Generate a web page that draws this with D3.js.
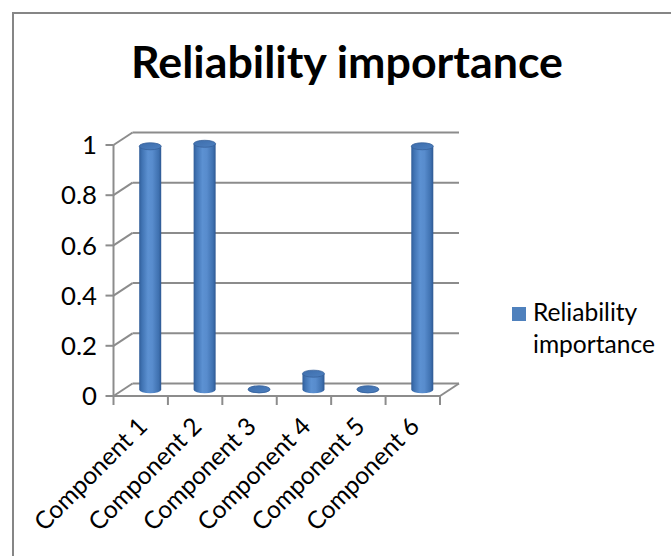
<!DOCTYPE html>
<html>
<head>
<meta charset="utf-8">
<script src="https://cdn.jsdelivr.net/npm/d3@7"></script>
<style>
  html, body { margin: 0; padding: 0; background: #fff; }
  svg { display: block; font-family: Lato, "Open Sans", sans-serif; }
</style>
</head>
<body>
<svg id="chart" width="671" height="556"></svg>
<script>
// Data
const categories = ["Component 1", "Component 2", "Component 3", "Component 4", "Component 5", "Component 6"];
const values = [0.97, 0.98, 0.002, 0.064, 0.002, 0.97];
const seriesName = "Reliability importance";
const yTicks = [0, 0.2, 0.4, 0.6, 0.8, 1];
const titleText = "Reliability importance";
const legendLines = ["Reliability", "importance"];

const svg = d3.select("#chart");
const W = 671, H = 556;

// Fit a font size so a text reaches a given width
function fitSize(text, weight, targetWidth) {
  const t = svg.append("text").attr("font-size", 100).attr("font-weight", weight).text(text);
  const w = t.node().getComputedTextLength();
  t.remove();
  return 100 * targetWidth / w;
}

// Outer frame
svg.append("rect")
  .attr("x", 13).attr("y", 13)
  .attr("width", W + 20).attr("height", H + 20)
  .attr("fill", "#fff").attr("stroke", "#868686").attr("stroke-width", 2);

// Title
const titleSize = fitSize(titleText, "bold", 432);
svg.append("text")
  .attr("x", 347).attr("y", 78)
  .attr("text-anchor", "middle")
  .attr("font-weight", "bold")
  .attr("font-size", titleSize)
  .attr("fill", "#000")
  .text(titleText);

const labelSize = fitSize(legendLines[1], "normal", 122);
const tickSize = fitSize("0.8", "normal", 36);

// Scales (front plane of the 3-D box)
const x = d3.scaleBand().domain(categories).range([113.5, 440]).padding(0);
const y = d3.scaleLinear().domain([0, 1]).range([396, 145]);
const depthX = 19, depthY = -12.5;   // offset from front plane to back wall

const grid = svg.append("g").attr("stroke", "#8c8c8c").attr("stroke-width", 2).attr("fill", "none");

// Back-wall gridlines and side-wall slants
yTicks.forEach(v => {
  const yf = y(v);
  grid.append("line")
    .attr("x1", x.range()[0] + depthX).attr("y1", yf + depthY)
    .attr("x2", x.range()[1] + depthX).attr("y2", yf + depthY);
  grid.append("line")
    .attr("x1", x.range()[0]).attr("y1", yf)
    .attr("x2", x.range()[0] + depthX).attr("y2", yf + depthY);
});

// Floor: front edge and right slant
grid.append("line")
  .attr("x1", x.range()[0]).attr("y1", y(0))
  .attr("x2", x.range()[1]).attr("y2", y(0));
grid.append("line")
  .attr("x1", x.range()[1]).attr("y1", y(0))
  .attr("x2", x.range()[1] + depthX).attr("y2", y(0) + depthY);

// Y axis line and ticks
grid.append("line")
  .attr("x1", x.range()[0]).attr("y1", y(1))
  .attr("x2", x.range()[0]).attr("y2", y(0));
yTicks.forEach(v => {
  grid.append("line")
    .attr("x1", x.range()[0] - 8).attr("y1", y(v))
    .attr("x2", x.range()[0]).attr("y2", y(v));
});

// X axis category ticks (band boundaries)
const bounds = categories.map(c => x(c)).concat([x.range()[1]]);
bounds.forEach(b => {
  grid.append("line")
    .attr("x1", b).attr("y1", y(0))
    .attr("x2", b).attr("y2", y(0) + 9);
});

// Y tick labels
svg.append("g").selectAll("text").data(yTicks).join("text")
  .attr("x", 97).attr("y", d => y(d))
  .attr("dy", "0.36em")
  .attr("text-anchor", "end")
  .attr("font-size", tickSize)
  .attr("fill", "#000")
  .text(d => d3.format("")(d));

// X category labels, rotated
svg.append("g").selectAll("text").data(categories).join("text")
  .attr("text-anchor", "end")
  .attr("font-size", labelSize)
  .attr("fill", "#000")
  .attr("transform", d => `translate(${x(d) + x.bandwidth() / 2 + 8},${y(0) + 32}) rotate(-45)`)
  .text(d => d);

// Cylinder gradients
const defs = svg.append("defs");
const body = defs.append("linearGradient").attr("id", "cylBody").attr("x1", 0).attr("x2", 1).attr("y1", 0).attr("y2", 0);
[[0, "#305d98"], [0.12, "#3f72b2"], [0.4, "#5c91d2"], [0.6, "#588ccd"], [0.88, "#3f71b0"], [1, "#2e5892"]]
  .forEach(([o, c]) => body.append("stop").attr("offset", o).attr("stop-color", c));
const topG = defs.append("linearGradient").attr("id", "cylTop").attr("x1", 0).attr("x2", 1).attr("y1", 0).attr("y2", 1);
[[0, "#3d6dab"], [1, "#4d80c0"]]
  .forEach(([o, c]) => topG.append("stop").attr("offset", o).attr("stop-color", c));

// Cylinders, centred at mid-depth of the box
const barW = 22, ry = 3.5;
const bars = svg.append("g").selectAll("g").data(categories.map((c, i) => ({ c, v: values[i] }))).join("g");
bars.each(function (d) {
  const g = d3.select(this);
  const cx = x(d.c) + x.bandwidth() / 2 + depthX / 2;
  const yBase = y(0) + depthY / 2;
  const yTop = y(d.v) + depthY / 2;
  const l = cx - barW / 2, r = cx + barW / 2;
  g.append("path")
    .attr("d", `M${l},${yTop} L${l},${yBase} A${barW / 2},${ry} 0 0 0 ${r},${yBase} L${r},${yTop} Z`)
    .attr("fill", "url(#cylBody)");
  g.append("ellipse")
    .attr("cx", cx).attr("cy", yTop)
    .attr("rx", barW / 2).attr("ry", ry)
    .attr("fill", "url(#cylTop)")
    .attr("stroke", "#36619b").attr("stroke-width", 0.8);
});

// Legend
const legend = svg.append("g");
legend.append("rect")
  .attr("x", 512).attr("y", 307).attr("width", 14).attr("height", 14)
  .attr("fill", "#4f81bd");
legend.selectAll("text").data(legendLines).join("text")
  .attr("x", 533).attr("y", (d, i) => 321 + i * 32)
  .attr("font-size", labelSize)
  .attr("fill", "#000")
  .text(d => d);
</script>
</body>
</html>
